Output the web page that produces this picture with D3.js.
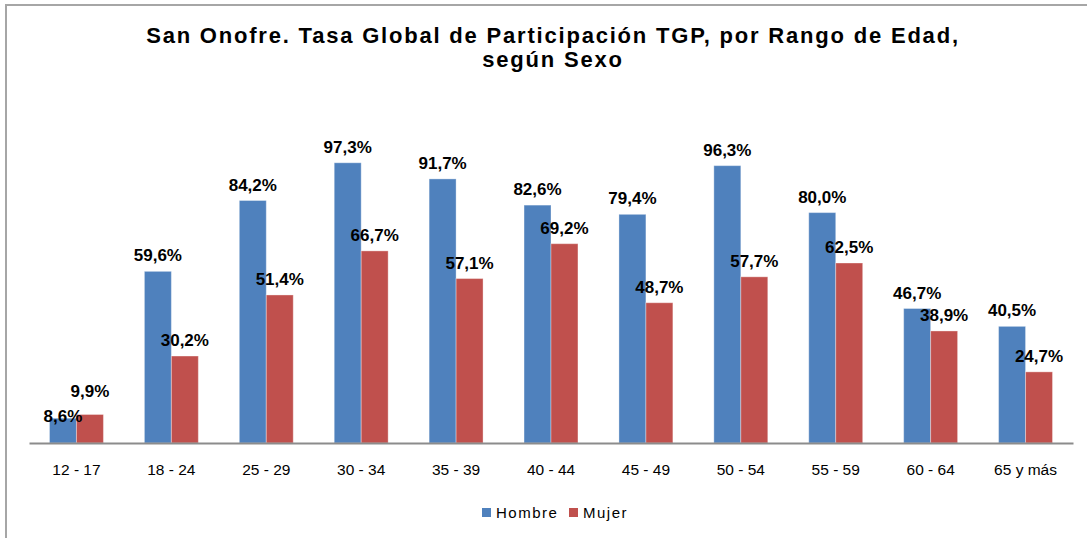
<!DOCTYPE html>
<html>
<head>
<meta charset="utf-8">
<script src="https://cdn.jsdelivr.net/npm/d3@7"></script>
<style>
  body { margin: 0; background: #fff; }
  svg { display: block; font-family: "Liberation Sans", Arial, sans-serif; }
</style>
</head>
<body>
<div id="chart"></div>
<script>
const categories = ["12 - 17", "18 - 24", "25 - 29", "30 - 34", "35 - 39", "40 - 44", "45 - 49", "50 - 54", "55 - 59", "60 - 64", "65 y más"];
const seriesNames = ["Hombre", "Mujer"];
const hombre = [8.6, 59.6, 84.2, 97.3, 91.7, 82.6, 79.4, 96.3, 80.0, 46.7, 40.5];
const mujer = [9.9, 30.2, 51.4, 66.7, 57.1, 69.2, 48.7, 57.7, 62.5, 38.9, 24.7];
const colors = ["#4F81BD", "#C0504D"];
const titleLines = ["San Onofre. Tasa Global de Participación TGP, por Rango de Edad,", "según Sexo"];

const W = 1087, H = 538;
const plot = { left: 29, right: 1073, top: 155, bottom: 443 };

const svg = d3.select("#chart").append("svg")
    .attr("width", W)
    .attr("height", H);

// frame
svg.append("rect")
    .attr("x", 6).attr("y", 5)
    .attr("width", W + 10).attr("height", H + 10)
    .attr("fill", "none")
    .attr("stroke", "#a6a6a6")
    .attr("stroke-width", 2);

// title
svg.append("text")
    .attr("text-anchor", "middle")
    .attr("font-weight", "bold")
    .attr("font-size", 22)
    .attr("letter-spacing", 1.8)
    .attr("fill", "#000")
    .selectAll("tspan").data(titleLines).enter().append("tspan")
    .attr("x", 553)
    .attr("y", (d, i) => 43 + i * 24)
    .text(d => d);

const x0 = d3.scaleBand().domain(categories).range([plot.left, plot.right]);
const x1 = d3.scaleBand().domain(seriesNames).range([0, x0.bandwidth()]).paddingOuter(0.76);
const y = d3.scaleLinear().domain([0, 100]).range([plot.bottom, plot.top]);

const rows = categories.map((c, i) => ({ cat: c, values: [hombre[i], mujer[i]] }));

const groups = svg.append("g").selectAll("g").data(rows).enter().append("g")
    .attr("transform", d => `translate(${x0(d.cat)},0)`);

groups.selectAll("rect").data(d => d.values.map((v, j) => ({ s: seriesNames[j], v: v, j: j })))
    .enter().append("rect")
    .attr("x", d => x1(d.s))
    .attr("y", d => y(d.v))
    .attr("width", x1.bandwidth())
    .attr("height", d => y(0) - y(d.v))
    .attr("fill", d => colors[d.j])
    .attr("stroke", "rgba(255,255,255,0.35)")
    .attr("stroke-width", 1);

// label positions: default 10px above the bar, pushed apart when the two labels collide
function labelY(vals, j) {
  const a = y(vals[0]) - 10, b = y(vals[1]) - 10;
  if (Math.abs(a - b) < 16) {
    const hi = vals[0] >= vals[1] ? 0 : 1;
    return j === hi ? Math.min(a, b) - 7 : Math.max(a, b) + 14;
  }
  return j === 0 ? a : b;
}

groups.selectAll("text.val").data(d => d.values.map((v, j) => ({ s: seriesNames[j], v: v, ly: labelY(d.values, j) })))
    .enter().append("text")
    .attr("class", "val")
    .attr("x", d => x1(d.s) + x1.bandwidth() / 2)
    .attr("y", d => d.ly)
    .attr("text-anchor", "middle")
    .attr("font-weight", "bold")
    .attr("font-size", 17)
    .attr("fill", "#000")
    .text(d => d.v.toFixed(1).replace(".", ",") + "%");

// axis
const xAxis = svg.append("g")
    .attr("transform", `translate(0,${plot.bottom})`)
    .call(d3.axisBottom(x0).tickSize(0).tickPadding(21));
xAxis.select(".domain").attr("stroke", "#8c8c8c").attr("stroke-width", 2);
xAxis.selectAll("text")
    .attr("font-family", "Liberation Sans, Arial, sans-serif")
    .attr("font-size", 15.5)
    .attr("fill", "#000");

// legend
const legend = svg.append("g").attr("transform", "translate(482,513)");
const legX = [0, 87];
seriesNames.forEach((s, i) => {
  const g = legend.append("g").attr("transform", `translate(${legX[i]},0)`);
  g.append("rect").attr("x", 0).attr("y", -5).attr("width", 9).attr("height", 9).attr("fill", colors[i]);
  g.append("text").attr("x", 14).attr("y", 5)
      .attr("font-size", 15).attr("letter-spacing", 1.5).attr("fill", "#000").text(s);
});
</script>
</body>
</html>
